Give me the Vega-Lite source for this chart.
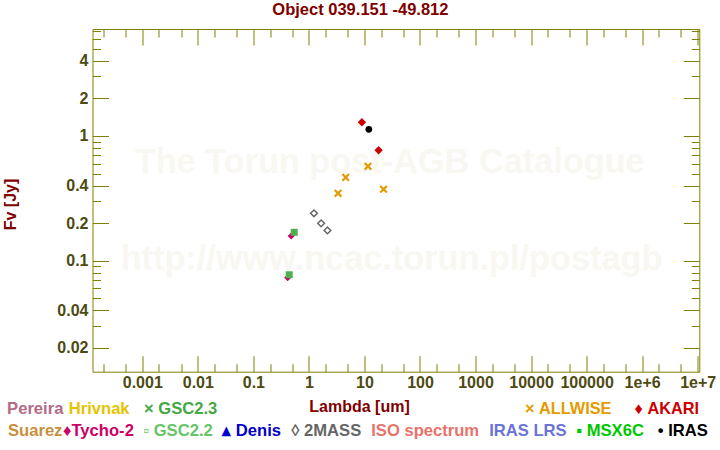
{
  "$schema": "https://vega.github.io/schema/vega-lite/v6.json",
  "width": 606.8,
  "height": 342.7,
  "autosize": {"type": "none"},
  "padding": {"left": 92.5, "top": 29, "right": 20.7, "bottom": 78.3},
  "background": "white",
  "config": {"view": {"stroke": "#808000", "strokeWidth": 1}},
  "title": {"text": "Object 039.151 -49.812", "font": "Liberation Sans", "fontSize": 16.5, "fontWeight": "bold", "color": "#800000", "anchor": "middle", "frame": "group", "dx": -35.5, "dy": 19, "offset": 10, "baseline": "alphabetic"},
  "datasets": {
    "sed": [
      {"cat": "Tycho-2", "lam": 0.414, "flux": 0.0731},
      {"cat": "Tycho-2", "lam": 0.48, "flux": 0.158},
      {"cat": "GSC2.2", "lam": 0.442, "flux": 0.0772},
      {"cat": "GSC2.2", "lam": 0.544, "flux": 0.169},
      {"cat": "2MASS", "lam": 1.235, "flux": 0.24},
      {"cat": "2MASS", "lam": 1.662, "flux": 0.1995},
      {"cat": "2MASS", "lam": 2.159, "flux": 0.175},
      {"cat": "ALLWISE", "lam": 3.35, "flux": 0.347},
      {"cat": "ALLWISE", "lam": 4.6, "flux": 0.466},
      {"cat": "ALLWISE", "lam": 11.6, "flux": 0.571},
      {"cat": "ALLWISE", "lam": 22.1, "flux": 0.374},
      {"cat": "AKARI", "lam": 9, "flux": 1.288},
      {"cat": "AKARI", "lam": 18, "flux": 0.768},
      {"cat": "IRAS", "lam": 12, "flux": 1.13}
    ]
  },
  "data": {"name": "sed"},
  "layer": [
    {
      "data": {"values": [{"label": "The Torun post-AGB Catalogue"}]},
      "mark": {"type": "text", "font": "Liberation Sans", "fontSize": 34.3, "fontWeight": "bold", "color": "#f9f7f2", "align": "center", "baseline": "middle"},
      "encoding": {
        "x": {"datum": 28.5, "type": "quantitative", "scale": {"type": "log", "domain": [0.000127, 10700000], "nice": false}, "axis": null},
        "y": {"datum": 0.607, "type": "quantitative", "scale": {"type": "log", "domain": [0.0129, 7.2], "nice": false}, "axis": null},
        "text": {"field": "label"}
      }
    },
    {
      "data": {"values": [{"label": "http://www.ncac.torun.pl/postagb"}]},
      "mark": {"type": "text", "font": "Liberation Sans", "fontSize": 34.3, "fontWeight": "bold", "color": "#f9f7f2", "align": "center", "baseline": "middle"},
      "encoding": {
        "x": {"datum": 30.7, "type": "quantitative", "scale": {"type": "log", "domain": [0.000127, 10700000], "nice": false}, "axis": null},
        "y": {"datum": 0.1014, "type": "quantitative", "scale": {"type": "log", "domain": [0.0129, 7.2], "nice": false}, "axis": null},
        "text": {"field": "label"}
      }
    },
    {
      "transform": [{"filter": {"field": "cat", "equal": "2MASS"}}],
      "mark": {"type": "point", "shape": "diamond", "filled": false, "size": 45, "stroke": "#666666", "strokeWidth": 1.5, "opacity": 1},
      "encoding": {
        "x": {"field": "lam", "type": "quantitative", "scale": {"type": "log", "domain": [0.000127, 10700000], "nice": false}, "axis": null},
        "y": {"field": "flux", "type": "quantitative", "scale": {"type": "log", "domain": [0.0129, 7.2], "nice": false}, "axis": null}
      }
    },
    {
      "transform": [{"filter": {"field": "cat", "equal": "ALLWISE"}}],
      "mark": {"type": "point", "shape": "M-1,-1L1,1M-1,1L1,-1", "filled": false, "size": 44, "stroke": "#e39b00", "strokeWidth": 2.2, "opacity": 1},
      "encoding": {
        "x": {"field": "lam", "type": "quantitative", "scale": {"type": "log", "domain": [0.000127, 10700000], "nice": false}, "axis": null},
        "y": {"field": "flux", "type": "quantitative", "scale": {"type": "log", "domain": [0.0129, 7.2], "nice": false}, "axis": null}
      }
    },
    {
      "transform": [{"filter": {"field": "cat", "equal": "Tycho-2"}}],
      "mark": {"type": "point", "shape": "diamond", "filled": true, "size": 49, "color": "#cc0066", "opacity": 1},
      "encoding": {
        "x": {"field": "lam", "type": "quantitative", "scale": {"type": "log", "domain": [0.000127, 10700000], "nice": false},
          "axis": {"orient": "bottom", "values": [0.0002, 0.0005, 0.001, 0.002, 0.005, 0.01, 0.02, 0.05, 0.1, 0.2, 0.5, 1, 2, 5, 10, 20, 50, 100, 200, 500, 1000, 2000, 5000, 10000, 20000, 50000, 100000, 200000, 500000, 1000000, 2000000, 5000000, 10000000],
            "domain": false, "grid": false, "tickColor": "#808000", "tickWidth": 1,
            "tickSize": {"condition": {"test": "abs(log(datum.value)/LN10 - round(log(datum.value)/LN10)) < 0.001", "value": -16}, "value": -8},
            "labelPadding": 19,
            "labelExpr": "abs(log(datum.value)/LN10 - round(log(datum.value)/LN10)) < 0.001 ? (datum.value > 500000 ? '1e+' + round(log(datum.value)/LN10) : format(datum.value, '')) : ''",
            "labelFont": "Liberation Sans", "labelFontSize": 16, "labelFontWeight": "bold", "labelColor": "#4d4a12", "labelFlush": false, "labelOverlap": false, "labelBound": false,
            "title": "Lambda [um]", "titleFont": "Liberation Sans", "titleFontSize": 16, "titleFontWeight": "bold", "titleColor": "#800000", "titleX": 266.5, "titleY": 39.6, "titleAlign": "center", "titleBaseline": "alphabetic"}},
        "y": {"field": "flux", "type": "quantitative", "scale": {"type": "log", "domain": [0.0129, 7.2], "nice": false},
          "axis": {"orient": "left", "values": [0.02, 0.03, 0.04, 0.05, 0.06, 0.07, 0.08, 0.09, 0.1, 0.2, 0.3, 0.4, 0.5, 0.6, 0.7, 0.8, 0.9, 1, 2, 3, 4, 5, 6, 7],
            "domain": false, "grid": false, "tickColor": "#808000", "tickWidth": 1,
            "tickSize": {"condition": {"test": "indexof([0.02,0.04,0.1,0.2,0.4,1,2,4], datum.value) >= 0", "value": -16}, "value": -8},
            "labelPadding": 20.5,
            "labelExpr": "indexof([0.02,0.04,0.1,0.2,0.4,1,2,4], datum.value) >= 0 ? format(datum.value, '') : ''",
            "labelFont": "Liberation Sans", "labelFontSize": 16, "labelFontWeight": "bold", "labelColor": "#4d4a12", "labelFlush": false, "labelOverlap": false, "labelBound": false,
            "title": "Fv [Jy]", "titleFont": "Liberation Sans", "titleFontSize": 16, "titleFontWeight": "bold", "titleColor": "#800000", "titleX": -81.7, "titleY": 175, "titleAngle": -90, "titleAlign": "center", "titleBaseline": "middle"}}
      }
    },
    {
      "transform": [{"filter": {"field": "cat", "equal": "GSC2.2"}}],
      "mark": {"type": "point", "shape": "square", "filled": true, "size": 49, "color": "#4fb04f", "opacity": 1},
      "encoding": {
        "x": {"field": "lam", "type": "quantitative", "scale": {"type": "log", "domain": [0.000127, 10700000], "nice": false},
          "axis": {"orient": "top", "values": [0.0002, 0.0005, 0.001, 0.002, 0.005, 0.01, 0.02, 0.05, 0.1, 0.2, 0.5, 1, 2, 5, 10, 20, 50, 100, 200, 500, 1000, 2000, 5000, 10000, 20000, 50000, 100000, 200000, 500000, 1000000, 2000000, 5000000, 10000000],
            "domain": false, "grid": false, "labels": false, "title": null, "tickColor": "#808000", "tickWidth": 1,
            "tickSize": {"condition": {"test": "abs(log(datum.value)/LN10 - round(log(datum.value)/LN10)) < 0.001", "value": -16}, "value": -8}}},
        "y": {"field": "flux", "type": "quantitative", "scale": {"type": "log", "domain": [0.0129, 7.2], "nice": false},
          "axis": {"orient": "right", "values": [0.02, 0.03, 0.04, 0.05, 0.06, 0.07, 0.08, 0.09, 0.1, 0.2, 0.3, 0.4, 0.5, 0.6, 0.7, 0.8, 0.9, 1, 2, 3, 4, 5, 6, 7],
            "domain": false, "grid": false, "labels": false, "title": null, "tickColor": "#808000", "tickWidth": 1,
            "tickSize": {"condition": {"test": "indexof([0.02,0.04,0.1,0.2,0.4,1,2,4], datum.value) >= 0", "value": -16}, "value": -8}}}
      }
    },
    {
      "transform": [{"filter": {"field": "cat", "equal": "AKARI"}}],
      "mark": {"type": "point", "shape": "diamond", "filled": true, "size": 69, "color": "#cc0000", "opacity": 1},
      "encoding": {
        "x": {"field": "lam", "type": "quantitative", "scale": {"type": "log", "domain": [0.000127, 10700000], "nice": false}, "axis": null},
        "y": {"field": "flux", "type": "quantitative", "scale": {"type": "log", "domain": [0.0129, 7.2], "nice": false}, "axis": null}
      }
    },
    {
      "transform": [{"filter": {"field": "cat", "equal": "IRAS"}}],
      "mark": {"type": "point", "shape": "circle", "filled": true, "size": 45, "color": "#000000", "opacity": 1},
      "encoding": {
        "x": {"field": "lam", "type": "quantitative", "scale": {"type": "log", "domain": [0.000127, 10700000], "nice": false}, "axis": null},
        "y": {"field": "flux", "type": "quantitative", "scale": {"type": "log", "domain": [0.0129, 7.2], "nice": false}, "axis": null}
      }
    },
    {
      "transform": [{"filter": {"field": "cat", "oneOf": ["Pereira", "Hrivnak", "GSC2.3"]}}],
      "mark": {"type": "point", "opacity": 0},
      "encoding": {
        "x": {"field": "lam", "type": "quantitative", "scale": {"type": "log", "domain": [0.000127, 10700000], "nice": false}, "axis": null},
        "y": {"field": "flux", "type": "quantitative", "scale": {"type": "log", "domain": [0.0129, 7.2], "nice": false}, "axis": null},
        "color": {"field": "cat", "type": "nominal",
          "scale": {"domain": ["Pereira", "Hrivnak", "GSC2.3"], "range": ["#b36b87", "#e5c300", "#44a844"]},
          "legend": {"orient": "none", "legendX": -85.4, "legendY": 371.7, "direction": "horizontal", "title": null, "padding": 0, "columnPadding": 0, "rowPadding": 0,
            "symbolSize": 0, "symbolStrokeWidth": 0, "symbolOpacity": 0, "labelOffset": -16.6, "labelLimit": 400,
            "labelFont": "Liberation Sans", "labelFontSize": 16.6, "labelFontWeight": "bold",
            "labelExpr": "datum.value==='Hrivnak' ? '\u200b\u00a0Hrivnak' : datum.value==='GSC2.3' ? '\u200b\u00a0\u00a0\u00a0\u00d7\u00a0GSC2.3' : datum.value",
            "labelColor": {"expr": "datum.value==='Pereira' ? '#b36b87' : datum.value==='Hrivnak' ? '#e5c300' : '#44a844'"}}}
      }
    },
    {
      "transform": [{"filter": {"field": "cat", "oneOf": ["ALLWISE", "AKARI"]}}],
      "mark": {"type": "point", "opacity": 0},
      "encoding": {
        "x": {"field": "lam", "type": "quantitative", "scale": {"type": "log", "domain": [0.000127, 10700000], "nice": false}, "axis": null},
        "y": {"field": "flux", "type": "quantitative", "scale": {"type": "log", "domain": [0.0129, 7.2], "nice": false}, "axis": null},
        "color": {"field": "cat", "type": "nominal",
          "scale": {"domain": ["ALLWISE", "AKARI"], "range": ["#e39b00", "#cc0000"]},
          "legend": {"orient": "none", "legendX": 432.5, "legendY": 371.7, "direction": "horizontal", "title": null, "padding": 0, "columnPadding": 0, "rowPadding": 0,
            "symbolSize": 0, "symbolStrokeWidth": 0, "symbolOpacity": 0, "labelOffset": -16.3, "labelLimit": 400,
            "labelFont": "Liberation Sans", "labelFontSize": 16.3, "labelFontWeight": "bold",
            "labelExpr": "datum.value==='ALLWISE' ? '\u00d7\u00a0ALLWISE' : '\u200b\u00a0\u00a0\u00a0\u00a0\u00a0\u2666\u00a0AKARI'",
            "labelColor": {"expr": "datum.value==='ALLWISE' ? '#e39b00' : '#cc0000'"}}}
      }
    },
    {
      "transform": [{"filter": {"field": "cat", "oneOf": ["Suarez", "Tycho-2", "GSC2.2", "Denis", "2MASS", "ISO spectrum", "IRAS LRS", "MSX6C", "IRAS"]}}],
      "mark": {"type": "point", "opacity": 0},
      "encoding": {
        "x": {"field": "lam", "type": "quantitative", "scale": {"type": "log", "domain": [0.000127, 10700000], "nice": false}, "axis": null},
        "y": {"field": "flux", "type": "quantitative", "scale": {"type": "log", "domain": [0.0129, 7.2], "nice": false}, "axis": null},
        "color": {"field": "cat", "type": "nominal",
          "scale": {"domain": ["Suarez", "Tycho-2", "GSC2.2", "Denis", "2MASS", "ISO spectrum", "IRAS LRS", "MSX6C", "IRAS"], "range": ["#c8903c", "#cc0066", "#66c466", "#0000c8", "#666666", "#e8736a", "#6b74d6", "#00c800", "#000000"]},
          "legend": {"orient": "none", "legendX": -84.5, "legendY": 393.2, "direction": "horizontal", "title": null, "padding": 0, "columnPadding": 0, "rowPadding": 0,
            "symbolSize": 0, "symbolStrokeWidth": 0, "symbolOpacity": 0, "labelOffset": -16.6, "labelLimit": 400,
            "labelFont": "Liberation Sans", "labelFontSize": 16.6, "labelFontWeight": "bold",
            "labelExpr": "datum.value==='Tycho-2' ? '\u2666Tycho-2' : datum.value==='GSC2.2' ? '\u200b\u00a0\u00a0\u25ab\u00a0GSC2.2' : datum.value==='Denis' ? '\u200b\u00a0\u00a0\u25b4\u00a0Denis' : datum.value==='2MASS' ? '\u200b\u00a0\u00a0\u25ca\u00a02MASS' : datum.value==='ISO spectrum' ? '\u200b\u00a0\u00a0ISO spectrum' : datum.value==='IRAS LRS' ? '\u200b\u00a0\u00a0IRAS LRS' : datum.value==='MSX6C' ? '\u200b\u00a0\u00a0\u25aa\u00a0MSX6C' : datum.value==='IRAS' ? '\u200b\u00a0\u00a0\u00a0\u2022\u00a0IRAS' : datum.value",
            "labelColor": {"expr": "datum.value==='Suarez' ? '#c8903c' : datum.value==='Tycho-2' ? '#cc0066' : datum.value==='GSC2.2' ? '#66c466' : datum.value==='Denis' ? '#0000c8' : datum.value==='2MASS' ? '#666666' : datum.value==='ISO spectrum' ? '#e8736a' : datum.value==='IRAS LRS' ? '#6b74d6' : datum.value==='MSX6C' ? '#00c800' : '#000000'"}}}
      }
    }
  ],
  "resolve": {
    "scale": {"color": "independent"},
    "legend": {"color": "independent"},
    "axis": {"x": "independent", "y": "independent"}
  }
}
